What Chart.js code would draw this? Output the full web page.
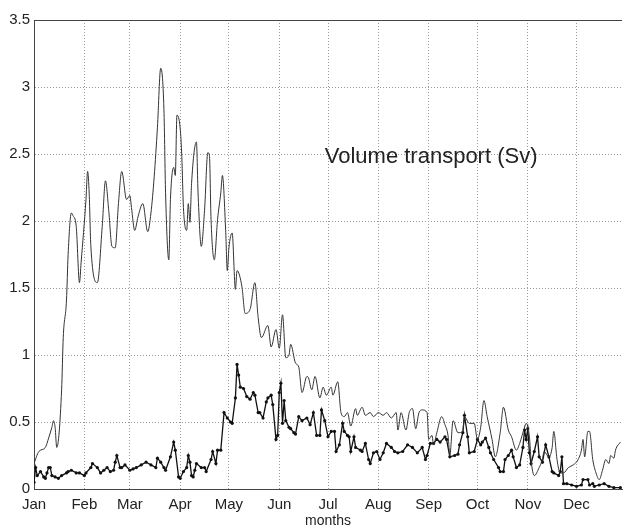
<!DOCTYPE html>
<html>
<head>
<meta charset="utf-8">
<title>Volume transport</title>
<script src="https://cdn.jsdelivr.net/npm/chart.js@4.4.0/dist/chart.umd.min.js"></script>
<style>
  html, body { margin: 0; padding: 0; background: #fff; }
  #wrap { width: 626px; height: 530px; }
</style>
</head>
<body>
<div id="wrap"><canvas id="chart" width="626" height="530"></canvas></div>
<script>
// month ticks (day of year where each month starts)
const monthStarts = [0, 31, 59, 90, 120, 151, 181, 212, 243, 273, 304, 334];
const monthLabels = ["Jan", "Feb", "Mar", "Apr", "May", "Jun", "Jul", "Aug", "Sep", "Oct", "Nov", "Dec"];
const yTicks = [0, 0.5, 1, 1.5, 2, 2.5, 3, 3.5];

// upper curve (plain line)
const upperDays = [0,3,7,9,11,12,13,14,17,18,20,21,23,24,26,28,29,32,33,34,35,39,42,44,46,48,50,52,54,57,
  59,60,62,64,67,70,72,74,76,78,80,81,83,84,86,87,88,90,91,92,94,95,96,97,100,101,103,105,107,108,
  109,111,113,115,116,118,119,120,122,124,125,128,130,133,136,138,140,144,146,149,151,153,155,157,158,161,163,165,168,169,
  171,173,176,178,180,183,184,187,189,191,193,195,198,199,202,204,207,209,212,215,217,220,223,224,226,229,231,233,235,237,
  239,242,243,245,246,248,251,253,255,256,258,261,264,265,268,271,273,275,277,279,282,284,287,289,292,294,297,299,302,303,
  305,306,308,311,313,314,317,319,320,322,324,326,329,332,335,337,338,339,341,342,344,346,348,350,352,354,355,357,358,361];
const upperValues = [0.19,0.28,0.31,0.38,0.46,0.51,0.46,0.31,0.74,1.13,1.41,1.75,2.06,2.04,1.96,1.54,1.69,2.16,2.37,2.20,
  1.81,1.54,1.96,2.30,2.08,1.81,1.80,2.13,2.37,2.16,2.19,2.10,1.93,2.03,2.13,1.92,2.06,2.33,2.70,3.14,2.83,2.21,1.71,2.16,
  2.40,2.34,2.79,2.69,2.48,2.10,1.93,2.13,1.99,2.28,2.59,2.21,1.81,2.08,2.51,2.49,2.01,1.71,2.01,2.21,2.34,1.93,1.63,1.80,
  1.91,1.49,1.63,1.51,1.31,1.34,1.54,1.28,1.13,1.22,1.06,1.19,1.05,1.30,0.98,1.00,1.08,0.94,0.91,0.72,0.84,0.83,0.74,0.84,
  0.68,0.76,0.70,0.76,0.70,0.80,0.57,0.54,0.57,0.47,0.60,0.55,0.61,0.55,0.57,0.54,0.57,0.55,0.57,0.53,0.57,0.44,0.57,0.44,
  0.57,0.60,0.45,0.57,0.59,0.57,0.37,0.40,0.33,0.42,0.54,0.48,0.39,0.25,0.51,0.42,0.43,0.54,0.49,0.49,0.37,0.46,0.66,0.54,
  0.37,0.24,0.42,0.61,0.44,0.39,0.29,0.34,0.46,0.49,0.39,0.22,0.10,0.16,0.22,0.28,0.24,0.31,0.43,0.22,0.12,0.12,0.16,0.18,
  0.22,0.29,0.37,0.24,0.43,0.43,0.22,0.12,0.07,0.14,0.22,0.19,0.25,0.23,0.29,0.35];

// lower curve (line with dots)
const lowerDays = [0,1,2,4,6,7,8,9,10,11,13,15,17,20,21,23,26,28,31,32,35,36,39,41,43,45,47,49,50,51,
  53,54,56,59,61,63,66,69,72,75,76,78,80,81,84,86,87,89,90,92,94,95,96,97,98,99,100,103,105,106,
  109,110,112,113,115,117,119,121,122,124,125,126,127,129,131,133,135,136,138,139,141,143,144,146,147,149,150,151,152,153,
  154,155,157,158,160,161,163,165,168,170,172,174,176,177,179,181,183,185,186,188,190,191,193,194,195,197,198,201,202,204,
  206,207,209,211,213,215,217,220,222,224,227,230,233,236,239,241,242,244,246,248,250,253,254,256,259,261,262,264,265,267,
  268,271,273,275,276,278,280,281,283,286,287,289,290,292,294,295,297,299,301,302,303,304,305,306,308,310,311,313,315,317,
  319,320,323,324,325,326,328,331,334,337,338,341,342,344,345,348,351,354,357,361];
const lowerValues = [0.05,0.16,0.10,0.13,0.09,0.08,0.12,0.16,0.16,0.10,0.09,0.08,0.10,0.12,0.13,0.14,0.12,0.12,0.10,0.12,
  0.16,0.19,0.16,0.12,0.14,0.16,0.13,0.14,0.20,0.25,0.16,0.16,0.18,0.14,0.15,0.16,0.18,0.20,0.18,0.16,0.23,0.20,0.16,0.14,
  0.24,0.35,0.29,0.09,0.08,0.13,0.16,0.25,0.20,0.10,0.09,0.14,0.19,0.16,0.16,0.13,0.22,0.28,0.19,0.29,0.29,0.57,0.53,0.50,
  0.49,0.68,0.93,0.85,0.76,0.75,0.69,0.67,0.72,0.70,0.57,0.57,0.53,0.65,0.68,0.70,0.63,0.37,0.40,0.72,0.79,0.49,0.66,0.51,
  0.46,0.45,0.42,0.41,0.54,0.51,0.53,0.48,0.57,0.40,0.40,0.59,0.51,0.39,0.43,0.43,0.28,0.33,0.49,0.43,0.40,0.39,0.28,0.39,
  0.31,0.29,0.28,0.34,0.22,0.19,0.27,0.28,0.22,0.27,0.34,0.31,0.28,0.27,0.28,0.33,0.31,0.27,0.31,0.22,0.25,0.34,0.34,0.37,
  0.35,0.39,0.37,0.24,0.25,0.26,0.33,0.42,0.55,0.39,0.27,0.28,0.37,0.33,0.35,0.38,0.31,0.27,0.22,0.16,0.13,0.13,0.22,0.25,
  0.29,0.24,0.16,0.18,0.31,0.44,0.37,0.45,0.27,0.19,0.28,0.39,0.24,0.20,0.33,0.24,0.13,0.12,0.10,0.13,0.24,0.04,0.04,0.03,
  0.02,0.03,0.07,0.07,0.03,0.04,0.02,0.03,0.04,0.02,0.01,0.01];

const labelText = "Volume transport (Sv)";
const labelAt = { x: 179, y: 2.48 };

const FONT = "'Liberation Sans', Arial, Helvetica, sans-serif";

function pairs(xs, ys) {
  return xs.map((x, i) => ({ x: x, y: ys[i] }));
}

// top frame line + text label inside the axes
const framePlugin = {
  id: "frame",
  afterDraw(chart) {
    const { ctx, chartArea, scales } = chart;
    ctx.save();
    ctx.strokeStyle = "#444";
    ctx.lineWidth = 1;
    ctx.beginPath();
    ctx.moveTo(chartArea.left, chartArea.top + 0.5);
    ctx.lineTo(chartArea.right, chartArea.top + 0.5);
    ctx.stroke();

    ctx.fillStyle = "#222";
    ctx.font = "22px " + FONT;
    ctx.textBaseline = "middle";
    ctx.textAlign = "left";
    ctx.fillText(labelText, scales.x.getPixelForValue(labelAt.x), scales.y.getPixelForValue(labelAt.y));
    ctx.restore();
  },
};

new Chart(document.getElementById("chart"), {
  type: "line",
  data: {
    datasets: [
      {
        data: pairs(upperDays, upperValues),
        borderColor: "#333",
        borderWidth: 1,
        pointRadius: 0,
        cubicInterpolationMode: "monotone",
      },
      {
        data: pairs(lowerDays, lowerValues),
        borderColor: "#111",
        borderWidth: 1.3,
        pointRadius: 1.6,
        pointBorderWidth: 0,
        pointBackgroundColor: "#111",
        tension: 0,
      },
    ],
  },
  options: {
    responsive: false,
    animation: false,
    layout: { padding: { top: 20, right: 0, left: 0, bottom: 0 } },
    plugins: { legend: { display: false }, tooltip: { enabled: false } },
    scales: {
      x: {
        type: "linear",
        min: 0,
        max: 362,
        afterBuildTicks: (axis) => {
          axis.ticks = monthStarts.map((v) => ({ value: v }));
        },
        afterFit: (axis) => {
          axis.height = 41;
        },
        ticks: {
          autoSkip: false,
          maxRotation: 0,
          padding: 7,
          color: "#222",
          font: { family: FONT, size: 15 },
          callback: (v) => monthLabels[monthStarts.indexOf(v)],
        },
        grid: { color: "#999", drawTicks: false },
        border: { display: true, color: "#444", width: 1, dash: [1, 2] },
        title: {
          display: true,
          text: "months",
          color: "#222",
          font: { family: FONT, size: 14 },
          padding: { top: 0, bottom: 0 },
        },
      },
      y: {
        min: 0,
        max: 3.5,
        afterBuildTicks: (axis) => {
          axis.ticks = yTicks.map((v) => ({ value: v }));
        },
        afterFit: (axis) => {
          axis.width = 34;
        },
        ticks: {
          padding: 4,
          color: "#222",
          font: { family: FONT, size: 15 },
          callback: (v) => String(v),
        },
        grid: { color: "#999", drawTicks: false },
        border: { display: true, color: "#444", width: 1, dash: [1, 2] },
      },
    },
  },
  plugins: [framePlugin],
});
</script>
</body>
</html>
